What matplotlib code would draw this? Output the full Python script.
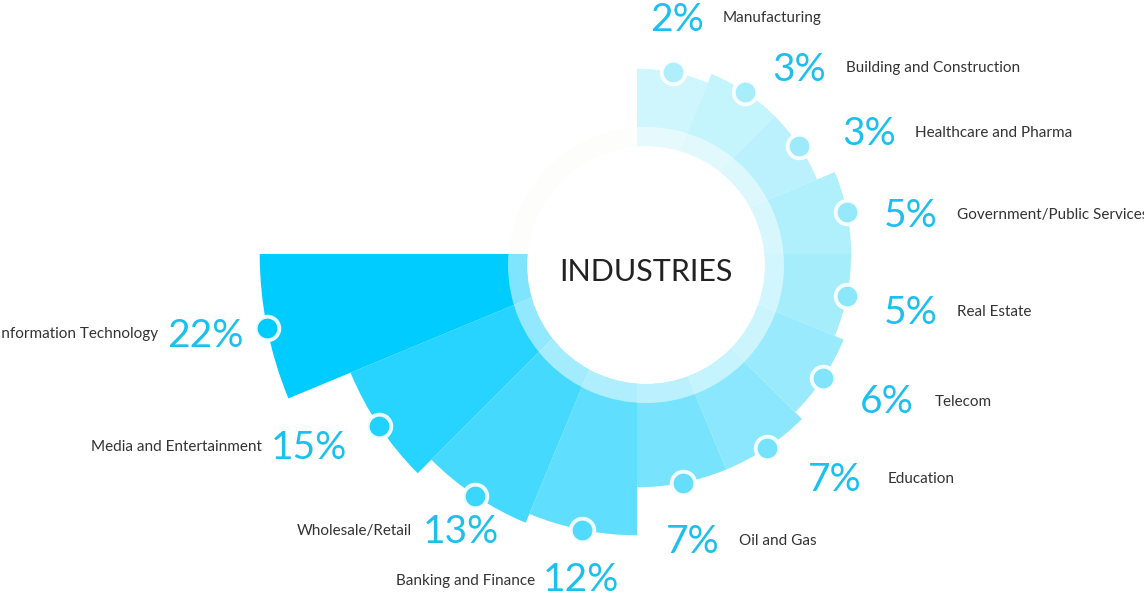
import numpy as np
import matplotlib
matplotlib.use("Agg")
import matplotlib.pyplot as plt
from matplotlib.patches import Circle, Wedge

# data, clockwise from 12 o'clock
industries = ["Manufacturing", "Building and Construction", "Healthcare and Pharma",
              "Government/Public Services", "Real Estate", "Telecom", "Education",
              "Oil and Gas", "Banking and Finance", "Wholesale/Retail",
              "Media and Entertainment", "Information Technology"]
shares = [2, 3, 3, 5, 5, 6, 7, 7, 12, 13, 15, 22]
colors = ["#cef6fc", "#c4f4fc", "#baf1fc", "#b0effc", "#a6edfc", "#99eafc",
          "#8be7fd", "#78e3fd", "#5fdefd", "#45d9fe", "#26d4ff", "#00ccff"]

# layout (pixels)
W, H = 1144, 595
CX, CY = 637, 254          # centre of the segments
PX_PER_UNIT = 9.6          # radial scale
HUB = 17.3                 # inner hub, in value units
RMAX = 40

# hand placed text anchors: (x, y) of percent / label
pct_pos = [(650, 20), (772, 70), (842, 134), (884, 216), (884, 313), (860, 402),
           (808, 480), (666, 542), (619, 580), (499, 532), (347, 448), (244, 336)]
lab_pos = [(723, 18), (846, 68), (915, 133), (957, 215), (957, 312), (935, 402),
           (888, 479), (739, 541), (535, 581), (412, 531), (262, 447), (158, 334)]

PCT_COLOR = "#1cc0ee"
TXT_COLOR = "#333333"

fig = plt.figure(figsize=(W / 100, H / 100), dpi=100)
fig.patch.set_facecolor("white")

# faint ring under everything (visible only in the empty quadrant)
back = fig.add_axes([0, 0, 1, 1])
back.set_xlim(0, W)
back.set_ylim(H, 0)
back.axis("off")
back.add_patch(Wedge((646, 265), 138, 0, 360, width=19, facecolor="#fcfcfa", edgecolor="none"))

# polar bars
R_px = (RMAX + HUB) * PX_PER_UNIT
ax = fig.add_axes([(CX - R_px) / W, (H - CY - R_px) / H, 2 * R_px / W, 2 * R_px / H],
                  projection="polar")
ax.set_theta_zero_location("N")
ax.set_theta_direction(-1)
ax.set_ylim(0, RMAX + HUB)
ax.axis("off")
ax.patch.set_alpha(0)

n = len(shares)
step = 2 * np.pi * 0.75 / n
theta = np.arange(n) * step
vals = np.array(shares, dtype=float)
ax.bar(theta, HUB + vals, width=step, bottom=0, align="edge",
       color=colors, edgecolor="none", linewidth=0)


def tint(c, f=0.15):
    # pull a colour a little toward the strong cyan
    rgb = np.array(matplotlib.colors.to_rgb(c))
    base = np.array(matplotlib.colors.to_rgb("#00c4f2"))
    return tuple(rgb * (1 - f) + base * f)


for t, v, c in zip(theta + step / 2, vals, colors):
    ax.plot(t, HUB + v, "o", ms=17, mfc=tint(c), mec=(1, 1, 1, 0.9), mew=2.8,
            clip_on=False)

# overlay: ring, white centre, text
top = fig.add_axes([0, 0, 1, 1])
top.set_xlim(0, W)
top.set_ylim(H, 0)
top.axis("off")
top.patch.set_alpha(0)
top.add_patch(Wedge((646, 265), 138, 0, 360, width=19, facecolor=(1, 1, 1, 0.5), edgecolor="none"))
top.add_patch(Circle((646, 265), 119, facecolor="white", edgecolor="none"))
top.text(646, 272, "INDUSTRIES", ha="center", va="center", fontsize=22,
         family="Lato", color="#222222")

for i, (name, s) in enumerate(zip(industries, shares)):
    px, py = pct_pos[i]
    lx, ly = lab_pos[i]
    right_side = i < 8
    ha = "left" if right_side else "right"
    top.text(px, py, f"{s}%", ha=ha, va="center", fontsize=28, family="Lato",
             color=PCT_COLOR)
    top.text(lx, ly, name, ha=ha, va="center", fontsize=11, family="Lato",
             color=TXT_COLOR)

fig.savefig("out.png", dpi=100)
